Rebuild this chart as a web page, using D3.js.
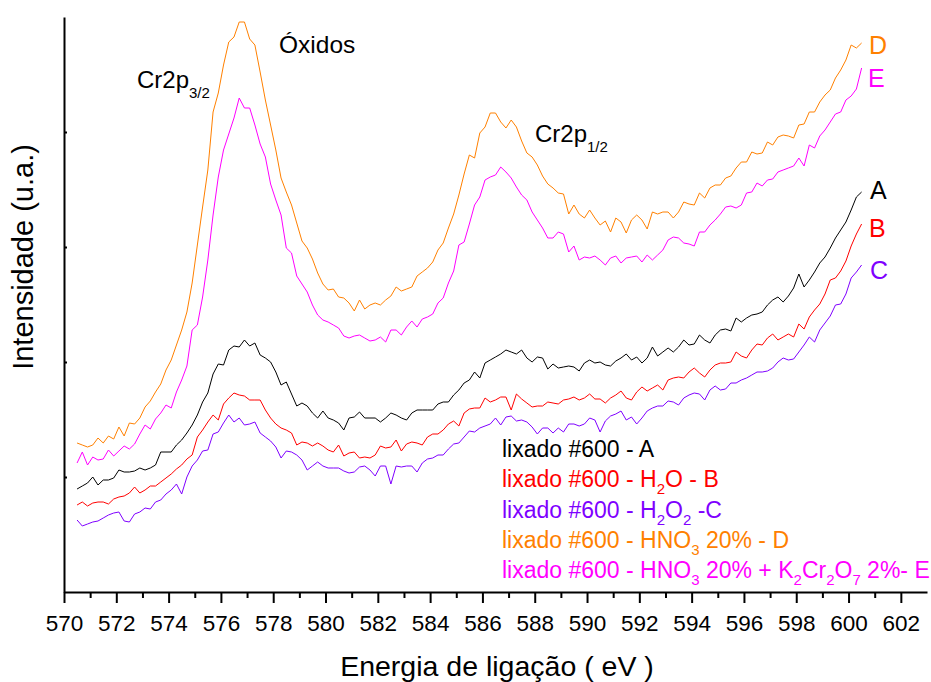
<!DOCTYPE html>
<html>
<head>
<meta charset="utf-8">
<script src="https://cdn.jsdelivr.net/npm/d3@7"></script>
<style>
  body { margin: 0; background: #fff; }
  text { font-family: "Liberation Sans", Arial, sans-serif; }
</style>
</head>
<body>
<figure id="xps" style="margin:0"></figure>
<script>
// binding energy grid (eV), one reading every 0.2 eV
const energy = d3.range(151).map(i => +(570.5 + i * 0.2).toFixed(1));

// intensities (a.u.)
const seriesA = [103,106,109,115,107,112,112,114,122,120,
  120,121,124,122,124,127,140,140,140,147,
  152,159,167,177,190,199,218,228,227,242,
  246,245,252,246,249,237,234,230,220,207,
  210,198,186,189,186,179,174,181,174,172,
  169,162,174,175,180,174,174,174,170,174,
  179,177,174,172,179,182,182,182,182,188,
  190,190,197,202,209,212,220,214,229,232,
  235,238,242,240,238,242,234,230,235,234,
  223,228,224,225,226,225,221,229,232,229,
  230,227,226,231,234,238,232,235,229,234,
  245,236,240,244,240,245,252,247,248,257,
  252,249,257,262,263,261,274,270,274,277,
  278,280,287,292,295,290,296,304,318,305,
  312,320,329,335,344,354,362,370,382,395,
  400];

const seriesB = [87,90,86,89,90,90,88,93,95,96,
  99,105,99,102,106,106,110,114,118,123,
  127,133,137,155,162,170,177,172,188,194,
  199,197,196,192,192,192,182,174,168,164,
  162,159,147,150,149,146,149,146,142,140,
  147,136,139,140,134,135,134,137,146,144,
  145,152,141,148,150,149,147,155,158,158,
  162,168,171,166,179,183,184,184,194,190,
  192,195,195,182,198,193,189,185,186,186,
  190,189,188,192,193,195,192,194,198,193,
  193,189,194,197,201,194,192,200,205,201,
  204,207,202,212,214,215,214,220,224,219,
  215,222,227,229,229,230,240,236,234,242,
  248,247,254,258,252,255,258,255,268,263,
  275,282,288,298,312,314,321,331,346,358,
  368];

const seriesC = [72,66,68,70,71,74,77,79,80,71,
  70,78,80,84,83,90,92,98,102,108,
  98,115,126,132,141,142,158,160,169,177,
  170,174,167,168,170,159,155,151,145,134,
  141,140,137,132,122,126,130,126,124,124,
  124,121,119,120,125,126,122,116,126,126,
  108,126,125,126,126,120,129,133,134,137,
  137,143,148,149,155,161,160,164,166,168,
  174,167,175,176,171,172,170,165,158,164,
  164,159,164,160,168,168,166,168,174,172,
  160,171,176,178,181,172,175,168,174,181,
  184,186,186,191,190,187,194,197,199,198,
  192,202,206,202,203,209,209,212,214,217,
  220,220,221,224,230,234,232,233,240,247,
  255,250,262,269,276,287,288,298,314,320,
  327];

const seriesD = [149,147,145,147,154,149,156,153,165,156,
  169,168,174,185,191,200,208,222,232,247,
  262,280,309,347,385,422,480,499,527,550,
  555,570,570,553,547,520,492,467,442,414,
  400,387,369,351,344,333,319,308,302,303,
  295,294,289,281,292,283,287,289,287,292,
  296,305,301,303,305,316,320,324,330,342,
  349,364,378,397,418,437,434,459,465,479,
  479,470,464,472,465,451,439,435,427,416,
  408,404,399,398,378,387,378,374,382,374,
  367,371,360,374,370,359,372,377,372,363,
  380,378,380,380,374,380,390,388,387,399,
  394,404,407,407,414,416,424,430,430,440,
  438,439,450,447,455,457,456,454,467,468,
  480,480,490,497,502,514,522,532,547,544,
  549];

const seriesE = [129,140,127,135,132,133,142,136,141,146,
  143,148,158,167,163,173,179,187,184,200,
  212,226,262,267,295,332,377,415,442,458,
  474,494,484,484,467,448,435,408,392,377,
  344,339,316,308,300,287,277,272,270,267,
  264,256,254,256,257,254,251,252,255,250,
  262,262,257,265,271,265,273,275,278,289,
  294,309,321,347,350,368,387,395,412,415,
  417,425,420,414,405,397,392,380,372,364,
  354,354,360,358,340,346,332,335,334,336,
  332,327,334,336,329,334,335,336,330,337,
  332,337,342,352,355,354,349,348,346,360,
  360,367,372,378,385,386,384,387,399,400,
  409,406,412,413,420,422,424,426,434,426,
  447,444,456,462,470,478,480,492,496,503,
  524];

const seriesNames = ["A", "B", "C", "D", "E"];
const xTicks = d3.range(570, 603, 2);
const xMinorTicks = d3.range(571, 603, 2);
const yTicks = [115, 230, 345, 460];

// legend text, [text, subscript?]
const legendText = [
  [["lixado #600 - A", false]],
  [["lixado #600 - H", false], ["2", true], ["O - B", false]],
  [["lixado #600 - H", false], ["2", true], ["O", false], ["2", true], [" -C", false]],
  [["lixado #600 - HNO", false], ["3", true], [" 20% - D", false]],
  [["lixado #600 - HNO", false], ["3", true], [" 20% + K", false], ["2", true], ["Cr", false], ["2", true], ["O", false], ["7", true], [" 2%- E", false]]
];

const colors = { A: "#000000", B: "#ff0000", C: "#7f00ff", D: "#ff8000", E: "#ff00ff" };
const data = { A: seriesA, B: seriesB, C: seriesC, D: seriesD, E: seriesE };

const width = 931, height = 682;

const svg = d3.select("figure#xps")
  .append("svg")
  .attr("width", width)
  .attr("height", height);

const x = d3.scaleLinear().domain([570, 603]).range([64, 927]);
const y = d3.scaleLinear().domain([0, 575]).range([592, 17]);

// curves
const line = d3.line()
  .x((d, i) => x(energy[i]))
  .y(d => y(d));

seriesNames.forEach(name => {
  svg.append("path")
    .datum(data[name])
    .attr("fill", "none")
    .attr("stroke", colors[name])
    .attr("stroke-width", 1)
    .attr("stroke-linejoin", "round")
    .attr("d", line);
});

// x axis, minor ticks first
svg.append("g")
  .attr("transform", "translate(0,592)")
  .call(d3.axisBottom(x).tickValues(xMinorTicks).tickSize(6).tickFormat(""))
  .call(g => g.select(".domain").remove())
  .selectAll("line").attr("stroke-width", 2);

const xAxis = svg.append("g")
  .attr("transform", "translate(0,592)")
  .call(d3.axisBottom(x).tickValues(xTicks).tickSize(11).tickSizeOuter(0).tickPadding(12));
xAxis.select(".domain").attr("stroke-width", 2);
xAxis.selectAll("line").attr("stroke-width", 2);
xAxis.selectAll("text")
  .style("font-size", "22.5px")
  .style("font-family", "'Liberation Sans', Arial, sans-serif")
  .attr("fill", "#000");

// y axis, small inner ticks, no labels
const yAxis = svg.append("g")
  .attr("transform", "translate(64,0)")
  .call(d3.axisLeft(y).tickValues(yTicks).tickSize(-3).tickSizeOuter(0).tickFormat(""));
yAxis.select(".domain").attr("stroke-width", 2);
yAxis.selectAll("line").attr("stroke-width", 2);

// axis titles
svg.append("text")
  .attr("x", 497)
  .attr("y", 676)
  .attr("text-anchor", "middle")
  .style("font-size", "28.5px")
  .text("Energia de ligação ( eV )");

svg.append("text")
  .attr("transform", "translate(33,257) rotate(-90)")
  .attr("text-anchor", "middle")
  .style("font-size", "29px")
  .text("Intensidade (u.a.)");

// letters at the end of each curve
const letterPos = { A: [870, 199], B: [869, 237], C: [870, 279], D: [869, 54], E: [868, 87] };
seriesNames.forEach(name => {
  svg.append("text")
    .attr("x", letterPos[name][0])
    .attr("y", letterPos[name][1])
    .attr("fill", colors[name])
    .style("font-size", "25px")
    .text(name);
});

// peak annotations
function subLabel(tx, ty, main, sub) {
  const t = svg.append("text").attr("x", tx).attr("y", ty).style("font-size", "24px");
  t.append("tspan").text(main);
  t.append("tspan").attr("dy", 10).style("font-size", "15px").text(sub);
}
subLabel(137, 88, "Cr2p", "3/2");
subLabel(535, 142, "Cr2p", "1/2");

svg.append("text")
  .attr("x", 279)
  .attr("y", 53)
  .style("font-size", "24.5px")
  .text("Óxidos");

// legend
legendText.forEach((parts, i) => {
  const t = svg.append("text")
    .attr("x", 502)
    .attr("y", 457 + i * 30.3)
    .attr("fill", colors[seriesNames[i]])
    .style("font-size", "23px");
  let down = false;
  parts.forEach(([s, sub]) => {
    const span = t.append("tspan").text(s);
    if (sub && !down) { span.attr("dy", 7).style("font-size", "15px"); down = true; }
    else if (sub) { span.style("font-size", "15px"); }
    else if (down) { span.attr("dy", -7); down = false; }
  });
});
</script>
</body>
</html>
